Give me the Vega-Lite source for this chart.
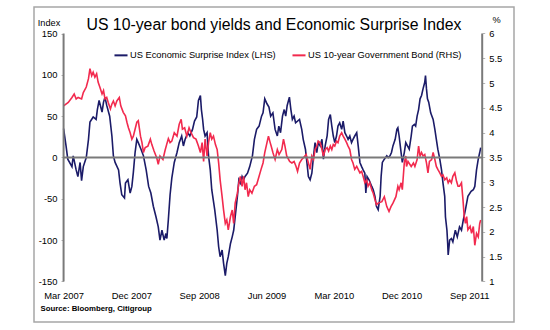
{
  "$schema": "https://vega.github.io/schema/vega-lite/v6.json",
  "width": 480,
  "height": 315,
  "autosize": {"type": "none"},
  "padding": {"left": 34, "top": 7, "right": 36, "bottom": 8},
  "background": "white",
  "config": {
    "view": {"stroke": "#a6a6a6", "strokeWidth": 1.5},
    "font": "Liberation Sans"
  },
  "title": {
    "text": "US 10-year bond yields and Economic Surprise Index",
    "font": "Liberation Sans",
    "fontSize": 15.8,
    "fontWeight": "normal",
    "color": "#000000",
    "anchor": "middle",
    "frame": "group",
    "baseline": "alphabetic",
    "offset": -39
  },
  "datasets": {
    "esi": [
      {"d":"2007-03-01","v":35},{"d":"2007-03-11","v":14},{"d":"2007-03-18","v":-2},{"d":"2007-04-04","v":-11},{"d":"2007-04-09","v":2},{"d":"2007-04-21","v":-15},{"d":"2007-04-28","v":-23},{"d":"2007-05-07","v":-6},{"d":"2007-05-13","v":-28},{"d":"2007-05-20","v":-11},{"d":"2007-06-01","v":0},{"d":"2007-06-10","v":22},{"d":"2007-06-16","v":43},{"d":"2007-06-29","v":49},{"d":"2007-07-11","v":46},{"d":"2007-07-16","v":58},{"d":"2007-07-23","v":69},{"d":"2007-08-04","v":55},{"d":"2007-08-10","v":67},{"d":"2007-08-16","v":73},{"d":"2007-08-23","v":63},{"d":"2007-09-04","v":50},{"d":"2007-09-13","v":26},{"d":"2007-09-19","v":2},{"d":"2007-09-26","v":-6},{"d":"2007-10-10","v":-15},{"d":"2007-10-16","v":-31},{"d":"2007-10-23","v":-45},{"d":"2007-11-03","v":-49},{"d":"2007-11-07","v":-31},{"d":"2007-11-17","v":-27},{"d":"2007-11-26","v":-43},{"d":"2007-12-03","v":-35},{"d":"2007-12-09","v":-18},{"d":"2007-12-16","v":6},{"d":"2007-12-23","v":22},{"d":"2007-12-29","v":18},
      {"d":"2008-01-09","v":10},{"d":"2008-01-19","v":2},{"d":"2008-01-30","v":-15},{"d":"2008-02-09","v":-35},{"d":"2008-02-18","v":-43},{"d":"2008-02-28","v":-59},{"d":"2008-03-10","v":-72},{"d":"2008-03-19","v":-84},{"d":"2008-03-26","v":-100},{"d":"2008-04-03","v":-88},{"d":"2008-04-12","v":-100},{"d":"2008-04-19","v":-92},{"d":"2008-04-23","v":-98},{"d":"2008-04-29","v":-75},{"d":"2008-05-06","v":-45},{"d":"2008-05-13","v":-25},{"d":"2008-05-23","v":-6},{"d":"2008-06-03","v":6},{"d":"2008-06-12","v":18},{"d":"2008-06-22","v":26},{"d":"2008-06-29","v":14},{"d":"2008-07-06","v":22},{"d":"2008-07-17","v":30},{"d":"2008-07-25","v":26},{"d":"2008-08-05","v":34},{"d":"2008-08-13","v":44},{"d":"2008-08-22","v":49},{"d":"2008-08-29","v":69},{"d":"2008-09-06","v":75},{"d":"2008-09-10","v":58},{"d":"2008-09-15","v":46},{"d":"2008-09-19","v":34},{"d":"2008-09-25","v":26},{"d":"2008-10-03","v":30},{"d":"2008-10-09","v":2},{"d":"2008-10-16","v":-15},{"d":"2008-10-22","v":-39},{"d":"2008-11-03","v":-63},{"d":"2008-11-13","v":-88},{"d":"2008-11-19","v":-108},{"d":"2008-11-25","v":-120},{"d":"2008-12-03","v":-112},{"d":"2008-12-09","v":-128},{"d":"2008-12-16","v":-143},{"d":"2008-12-22","v":-128},{"d":"2008-12-28","v":-120},
      {"d":"2009-01-06","v":-104},{"d":"2009-01-13","v":-96},{"d":"2009-01-19","v":-88},{"d":"2009-01-25","v":-72},{"d":"2009-02-03","v":-47},{"d":"2009-02-09","v":-27},{"d":"2009-02-15","v":-31},{"d":"2009-02-22","v":-23},{"d":"2009-02-28","v":-27},{"d":"2009-03-06","v":-23},{"d":"2009-03-16","v":-19},{"d":"2009-03-25","v":-11},{"d":"2009-04-05","v":2},{"d":"2009-04-13","v":22},{"d":"2009-04-22","v":34},{"d":"2009-05-02","v":38},{"d":"2009-05-12","v":50},{"d":"2009-05-18","v":54},{"d":"2009-05-25","v":71},{"d":"2009-06-03","v":65},{"d":"2009-06-11","v":61},{"d":"2009-06-18","v":50},{"d":"2009-06-27","v":54},{"d":"2009-07-06","v":34},{"d":"2009-07-15","v":26},{"d":"2009-07-21","v":38},{"d":"2009-07-28","v":30},{"d":"2009-08-05","v":50},{"d":"2009-08-12","v":58},{"d":"2009-08-18","v":50},{"d":"2009-08-24","v":63},{"d":"2009-09-02","v":73},{"d":"2009-09-08","v":58},{"d":"2009-09-14","v":46},{"d":"2009-09-21","v":50},{"d":"2009-09-27","v":42},{"d":"2009-10-13","v":46},{"d":"2009-10-22","v":34},{"d":"2009-10-28","v":22},{"d":"2009-11-06","v":10},{"d":"2009-11-12","v":-6},{"d":"2009-11-18","v":-23},{"d":"2009-11-25","v":-27},{"d":"2009-12-02","v":-19},{"d":"2009-12-09","v":2},{"d":"2009-12-15","v":18},{"d":"2009-12-22","v":6},{"d":"2009-12-28","v":18},
      {"d":"2010-01-05","v":14},{"d":"2010-01-12","v":22},{"d":"2010-01-18","v":-2},{"d":"2010-01-25","v":14},{"d":"2010-02-02","v":26},{"d":"2010-02-08","v":46},{"d":"2010-02-15","v":52},{"d":"2010-02-21","v":38},{"d":"2010-02-27","v":26},{"d":"2010-03-05","v":18},{"d":"2010-03-12","v":26},{"d":"2010-03-18","v":38},{"d":"2010-03-25","v":42},{"d":"2010-04-02","v":34},{"d":"2010-04-08","v":44},{"d":"2010-04-15","v":30},{"d":"2010-04-22","v":26},{"d":"2010-04-28","v":22},{"d":"2010-05-05","v":26},{"d":"2010-05-12","v":18},{"d":"2010-05-18","v":22},{"d":"2010-05-25","v":26},{"d":"2010-06-02","v":30},{"d":"2010-06-08","v":14},{"d":"2010-06-15","v":-6},{"d":"2010-06-22","v":-11},{"d":"2010-06-28","v":-15},{"d":"2010-07-05","v":-19},{"d":"2010-07-09","v":-43},{"d":"2010-07-14","v":-23},{"d":"2010-07-22","v":-27},{"d":"2010-08-02","v":-35},{"d":"2010-08-08","v":-39},{"d":"2010-08-15","v":-47},{"d":"2010-08-21","v":-59},{"d":"2010-08-28","v":-63},{"d":"2010-09-05","v":-47},{"d":"2010-09-09","v":-23},{"d":"2010-09-14","v":-6},{"d":"2010-09-22","v":-2},{"d":"2010-10-02","v":2},{"d":"2010-10-08","v":0},{"d":"2010-10-15","v":2},{"d":"2010-10-21","v":6},{"d":"2010-10-27","v":14},{"d":"2010-11-05","v":22},{"d":"2010-11-12","v":34},{"d":"2010-11-16","v":36},{"d":"2010-11-21","v":26},{"d":"2010-11-29","v":6},{"d":"2010-12-04","v":-6},{"d":"2010-12-12","v":6},{"d":"2010-12-18","v":18},{"d":"2010-12-25","v":14},
      {"d":"2011-01-01","v":10},{"d":"2011-01-09","v":26},{"d":"2011-01-14","v":38},{"d":"2011-01-22","v":40},{"d":"2011-01-27","v":38},{"d":"2011-02-02","v":50},{"d":"2011-02-08","v":58},{"d":"2011-02-14","v":71},{"d":"2011-02-20","v":75},{"d":"2011-02-26","v":83},{"d":"2011-03-05","v":91},{"d":"2011-03-08","v":99},{"d":"2011-03-12","v":83},{"d":"2011-03-16","v":71},{"d":"2011-03-21","v":67},{"d":"2011-03-29","v":54},{"d":"2011-04-08","v":46},{"d":"2011-04-15","v":34},{"d":"2011-04-21","v":22},{"d":"2011-04-27","v":10},{"d":"2011-05-05","v":-2},{"d":"2011-05-12","v":-15},{"d":"2011-05-18","v":-31},{"d":"2011-05-25","v":-47},{"d":"2011-05-28","v":-72},{"d":"2011-06-03","v":-88},{"d":"2011-06-06","v":-104},{"d":"2011-06-08","v":-118},{"d":"2011-06-14","v":-100},{"d":"2011-06-21","v":-98},{"d":"2011-06-27","v":-102},{"d":"2011-07-07","v":-88},{"d":"2011-07-15","v":-96},{"d":"2011-07-24","v":-84},{"d":"2011-08-01","v":-88},{"d":"2011-08-08","v":-76},{"d":"2011-08-17","v":-63},{"d":"2011-08-27","v":-47},{"d":"2011-09-09","v":-41},{"d":"2011-09-18","v":-39},{"d":"2011-09-24","v":-35},{"d":"2011-10-01","v":-15},{"d":"2011-10-08","v":-2},{"d":"2011-10-14","v":6},{"d":"2011-10-18","v":12}
    ],
    "ust": [
      {"d":"2007-03-01","v":4.54},{"d":"2007-03-20","v":4.61},{"d":"2007-04-04","v":4.71},{"d":"2007-04-13","v":4.78},{"d":"2007-04-21","v":4.68},{"d":"2007-04-29","v":4.71},{"d":"2007-05-13","v":4.68},{"d":"2007-05-20","v":4.81},{"d":"2007-06-01","v":4.92},{"d":"2007-06-10","v":5.09},{"d":"2007-06-16","v":5.29},{"d":"2007-06-23","v":5.15},{"d":"2007-06-29","v":5.22},{"d":"2007-07-06","v":5.12},{"d":"2007-07-13","v":5.19},{"d":"2007-07-19","v":5.02},{"d":"2007-07-26","v":4.92},{"d":"2007-08-04","v":4.78},{"d":"2007-08-10","v":4.85},{"d":"2007-08-16","v":4.68},{"d":"2007-08-23","v":4.71},{"d":"2007-08-29","v":4.61},{"d":"2007-09-07","v":4.48},{"d":"2007-09-13","v":4.58},{"d":"2007-09-19","v":4.64},{"d":"2007-09-26","v":4.54},{"d":"2007-10-03","v":4.64},{"d":"2007-10-13","v":4.71},{"d":"2007-10-19","v":4.54},{"d":"2007-10-29","v":4.41},{"d":"2007-11-07","v":4.34},{"d":"2007-11-13","v":4.21},{"d":"2007-11-19","v":4.10},{"d":"2007-11-26","v":4.00},{"d":"2007-12-03","v":3.87},{"d":"2007-12-09","v":3.93},{"d":"2007-12-16","v":4.07},{"d":"2007-12-23","v":4.21},{"d":"2007-12-29","v":4.24},
      {"d":"2008-01-07","v":3.93},{"d":"2008-01-13","v":3.80},{"d":"2008-01-19","v":3.60},{"d":"2008-01-26","v":3.70},{"d":"2008-02-06","v":3.73},{"d":"2008-02-16","v":3.87},{"d":"2008-02-22","v":3.76},{"d":"2008-03-02","v":3.63},{"d":"2008-03-13","v":3.49},{"d":"2008-03-19","v":3.36},{"d":"2008-03-26","v":3.53},{"d":"2008-04-07","v":3.46},{"d":"2008-04-16","v":3.65},{"d":"2008-04-22","v":3.76},{"d":"2008-04-29","v":3.88},{"d":"2008-05-06","v":3.80},{"d":"2008-05-13","v":3.83},{"d":"2008-05-23","v":4.00},{"d":"2008-06-03","v":3.93},{"d":"2008-06-12","v":4.17},{"d":"2008-06-20","v":4.27},{"d":"2008-06-25","v":4.07},{"d":"2008-07-04","v":4.10},{"d":"2008-07-13","v":3.93},{"d":"2008-07-22","v":4.10},{"d":"2008-07-30","v":4.00},{"d":"2008-08-09","v":3.90},{"d":"2008-08-19","v":3.87},{"d":"2008-08-29","v":3.73},{"d":"2008-09-06","v":3.60},{"d":"2008-09-13","v":3.80},{"d":"2008-09-19","v":3.42},{"d":"2008-09-25","v":3.87},{"d":"2008-10-03","v":3.53},{"d":"2008-10-09","v":3.80},{"d":"2008-10-16","v":4.00},{"d":"2008-10-22","v":3.87},{"d":"2008-10-29","v":3.93},{"d":"2008-11-06","v":3.76},{"d":"2008-11-13","v":3.66},{"d":"2008-11-19","v":3.39},{"d":"2008-11-25","v":3.05},{"d":"2008-12-03","v":2.71},{"d":"2008-12-09","v":2.44},{"d":"2008-12-16","v":2.17},{"d":"2008-12-22","v":2.24},{"d":"2008-12-28","v":2.04},
      {"d":"2009-01-06","v":2.31},{"d":"2009-01-13","v":2.44},{"d":"2009-01-19","v":2.17},{"d":"2009-01-25","v":2.58},{"d":"2009-02-03","v":2.78},{"d":"2009-02-09","v":2.99},{"d":"2009-02-15","v":3.12},{"d":"2009-02-22","v":2.92},{"d":"2009-02-28","v":3.12},{"d":"2009-03-06","v":2.85},{"d":"2009-03-12","v":2.99},{"d":"2009-03-19","v":2.71},{"d":"2009-03-25","v":2.85},{"d":"2009-04-03","v":2.78},{"d":"2009-04-13","v":2.92},{"d":"2009-04-22","v":2.95},{"d":"2009-05-02","v":3.12},{"d":"2009-05-10","v":3.26},{"d":"2009-05-18","v":3.39},{"d":"2009-05-25","v":3.60},{"d":"2009-06-03","v":3.80},{"d":"2009-06-09","v":3.93},{"d":"2009-06-16","v":3.80},{"d":"2009-06-20","v":3.73},{"d":"2009-06-27","v":3.60},{"d":"2009-07-06","v":3.46},{"d":"2009-07-15","v":3.66},{"d":"2009-07-22","v":3.56},{"d":"2009-08-02","v":3.66},{"d":"2009-08-09","v":3.87},{"d":"2009-08-15","v":3.73},{"d":"2009-08-22","v":3.53},{"d":"2009-09-03","v":3.42},{"d":"2009-09-12","v":3.39},{"d":"2009-09-21","v":3.42},{"d":"2009-09-29","v":3.32},{"d":"2009-10-05","v":3.22},{"d":"2009-10-13","v":3.39},{"d":"2009-10-22","v":3.46},{"d":"2009-10-28","v":3.49},{"d":"2009-11-09","v":3.56},{"d":"2009-11-18","v":3.39},{"d":"2009-11-25","v":3.26},{"d":"2009-12-02","v":3.53},{"d":"2009-12-09","v":3.46},{"d":"2009-12-15","v":3.66},{"d":"2009-12-22","v":3.73},{"d":"2009-12-28","v":3.83},
      {"d":"2010-01-05","v":3.80},{"d":"2010-01-12","v":3.66},{"d":"2010-01-18","v":3.53},{"d":"2010-01-25","v":3.66},{"d":"2010-02-02","v":3.70},{"d":"2010-02-08","v":3.63},{"d":"2010-02-15","v":3.73},{"d":"2010-02-21","v":3.66},{"d":"2010-02-27","v":3.76},{"d":"2010-03-05","v":3.73},{"d":"2010-03-12","v":3.83},{"d":"2010-03-18","v":3.80},{"d":"2010-03-25","v":3.93},{"d":"2010-04-02","v":4.00},{"d":"2010-04-08","v":3.93},{"d":"2010-04-15","v":3.87},{"d":"2010-04-22","v":3.80},{"d":"2010-04-28","v":3.73},{"d":"2010-05-05","v":3.66},{"d":"2010-05-12","v":3.46},{"d":"2010-05-18","v":3.39},{"d":"2010-05-25","v":3.26},{"d":"2010-06-02","v":3.32},{"d":"2010-06-08","v":3.26},{"d":"2010-06-15","v":3.19},{"d":"2010-06-22","v":3.22},{"d":"2010-06-28","v":3.12},{"d":"2010-07-05","v":2.99},{"d":"2010-07-12","v":3.05},{"d":"2010-07-18","v":2.92},{"d":"2010-07-25","v":2.99},{"d":"2010-08-02","v":2.85},{"d":"2010-08-08","v":2.78},{"d":"2010-08-15","v":2.65},{"d":"2010-08-21","v":2.55},{"d":"2010-08-28","v":2.58},{"d":"2010-09-12","v":2.61},{"d":"2010-09-22","v":2.71},{"d":"2010-10-02","v":2.51},{"d":"2010-10-11","v":2.41},{"d":"2010-10-19","v":2.51},{"d":"2010-10-27","v":2.58},{"d":"2010-11-08","v":2.71},{"d":"2010-11-16","v":2.92},{"d":"2010-11-21","v":2.85},{"d":"2010-11-29","v":2.99},{"d":"2010-12-04","v":2.85},{"d":"2010-12-12","v":3.39},{"d":"2010-12-18","v":3.53},{"d":"2010-12-21","v":3.32},{"d":"2010-12-27","v":3.42},
      {"d":"2011-01-09","v":3.32},{"d":"2011-01-18","v":3.39},{"d":"2011-01-24","v":3.32},{"d":"2011-02-02","v":3.46},{"d":"2011-02-08","v":3.73},{"d":"2011-02-14","v":3.53},{"d":"2011-02-20","v":3.60},{"d":"2011-02-26","v":3.53},{"d":"2011-03-05","v":3.56},{"d":"2011-03-12","v":3.39},{"d":"2011-03-18","v":3.19},{"d":"2011-03-24","v":3.42},{"d":"2011-04-02","v":3.46},{"d":"2011-04-08","v":3.60},{"d":"2011-04-15","v":3.46},{"d":"2011-04-21","v":3.32},{"d":"2011-04-27","v":3.26},{"d":"2011-05-05","v":3.19},{"d":"2011-05-12","v":3.12},{"d":"2011-05-18","v":3.15},{"d":"2011-05-25","v":3.05},{"d":"2011-06-02","v":3.09},{"d":"2011-06-08","v":2.99},{"d":"2011-06-14","v":3.05},{"d":"2011-06-21","v":2.99},{"d":"2011-06-27","v":3.12},{"d":"2011-07-05","v":3.19},{"d":"2011-07-12","v":3.02},{"d":"2011-07-18","v":2.92},{"d":"2011-07-24","v":2.92},{"d":"2011-08-01","v":2.99},{"d":"2011-08-07","v":2.65},{"d":"2011-08-12","v":2.31},{"d":"2011-08-17","v":2.17},{"d":"2011-08-22","v":2.31},{"d":"2011-08-27","v":2.04},{"d":"2011-09-05","v":2.11},{"d":"2011-09-11","v":1.97},{"d":"2011-09-18","v":2.11},{"d":"2011-09-24","v":1.73},{"d":"2011-10-01","v":1.97},{"d":"2011-10-08","v":1.90},{"d":"2011-10-14","v":2.17},{"d":"2011-10-18","v":2.24}
    ]
  },
  "layer": [
    {
      "data": {"name": "esi"},
      "mark": {"type": "line", "strokeWidth": 1.6},
      "encoding": {
        "x": {
          "field": "d",
          "type": "temporal",
          "scale": {
            "type": "utc",
            "domain": [
              {"year": 2006, "month": 11, "date": 1, "utc": true},
              {"year": 2012, "month": 3, "date": 1, "utc": true}
            ]
          },
          "axis": {
            "orient": "bottom",
            "offset": -40.5,
            "domain": false,
            "ticks": false,
            "tickSize": 0,
            "grid": false,
            "values": [
              {"year": 2007, "month": 3, "date": 1, "utc": true},
              {"year": 2007, "month": 12, "date": 1, "utc": true},
              {"year": 2008, "month": 9, "date": 1, "utc": true},
              {"year": 2009, "month": 6, "date": 1, "utc": true},
              {"year": 2010, "month": 3, "date": 1, "utc": true},
              {"year": 2010, "month": 12, "date": 1, "utc": true},
              {"year": 2011, "month": 9, "date": 1, "utc": true}
            ],
            "labelExpr": "utcFormat(datum.value, '%b %Y')",
            "labelOverlap": false,
            "labelFlush": false,
            "labelBound": false,
            "labelPadding": 10,
            "labelFont": "Liberation Sans",
            "labelFontSize": 9.4,
            "labelColor": "#000000",
            "title": "Source: Bloomberg, Citigroup",
            "titleFont": "Liberation Sans",
            "titleFontSize": 7.8,
            "titleFontWeight": "bold",
            "titleColor": "#000000",
            "titleAlign": "left",
            "titleAnchor": "start",
            "titleBaseline": "middle",
            "titleX": 6,
            "titleY": 27
          }
        },
        "y": {
          "field": "v",
          "type": "quantitative",
          "scale": {"domain": [-199, 182.06], "nice": false, "zero": false},
          "axis": {
            "orient": "left",
            "offset": -29.5,
            "domain": false,
            "grid": false,
            "values": [-150, -100, -50, 0, 50, 100, 150],
            "labelExpr": "datum.value + ''",
            "labelOverlap": false,
            "tickSize": 2.5,
            "tickColor": "#b5b5b5",
            "labelPadding": 4,
            "labelFont": "Liberation Sans",
            "labelFontSize": 9.4,
            "labelColor": "#000000",
            "title": "Index",
            "titleAngle": 0,
            "titleFont": "Liberation Sans",
            "titleFontSize": 9.2,
            "titleFontWeight": "normal",
            "titleColor": "#000000",
            "titleAlign": "center",
            "titleBaseline": "middle",
            "titleX": -15,
            "titleY": 15
          }
        },
        "color": {
          "datum": "US Economic Surprise Index (LHS)",
          "type": "nominal",
          "scale": {
            "domain": ["US Economic Surprise Index (LHS)", "US 10-year Government Bond (RHS)"],
            "range": ["#1b1b68", "#f22a4e"]
          },
          "legend": {
            "orient": "none",
            "legendX": 79,
            "legendY": 40,
            "direction": "horizontal",
            "title": null,
            "symbolType": "stroke",
            "symbolStrokeWidth": 2,
            "symbolSize": 170,
            "labelFont": "Liberation Sans",
            "labelFontSize": 9.3,
            "labelColor": "#000000",
            "labelLimit": 300,
            "labelOffset": 1,
            "columnPadding": 12,
            "padding": 0
          }
        }
      }
    },
    {
      "data": {"name": "ust"},
      "mark": {"type": "line", "strokeWidth": 1.6},
      "encoding": {
        "x": {"field": "d", "type": "temporal"},
        "y": {
          "field": "v",
          "type": "quantitative",
          "scale": {"domain": [0.1835, 6.534], "nice": false, "zero": false},
          "axis": {
            "orient": "right",
            "offset": -31.8,
            "domain": false,
            "grid": false,
            "values": [1, 1.5, 2, 2.5, 3, 3.5, 4, 4.5, 5, 5.5, 6],
            "labelExpr": "datum.value + ''",
            "labelOverlap": false,
            "tickSize": 2.5,
            "tickColor": "#b5b5b5",
            "labelPadding": 4,
            "labelFont": "Liberation Sans",
            "labelFontSize": 9.4,
            "labelColor": "#000000",
            "title": "%",
            "titleAngle": 0,
            "titleFont": "Liberation Sans",
            "titleFontSize": 9.2,
            "titleFontWeight": "normal",
            "titleColor": "#000000",
            "titleAlign": "center",
            "titleBaseline": "middle",
            "titleX": 14,
            "titleY": 12
          }
        },
        "color": {"datum": "US 10-year Government Bond (RHS)", "type": "nominal"}
      }
    },
    {
      "data": {"values": [{}]},
      "layer": [
        {
          "mark": {"type": "rule", "color": "#7a7a7a", "strokeWidth": 2},
          "encoding": {
            "x": {"datum": {"year": 2007, "month": 3, "date": 1, "utc": true}, "type": "temporal"},
            "x2": {"datum": {"year": 2011, "month": 10, "date": 24, "utc": true}},
            "y": {"datum": 0, "type": "quantitative", "scale": {"domain": [-199, 182.06], "nice": false, "zero": false}, "axis": null}
          }
        },
        {
          "mark": {"type": "rule", "color": "#7a7a7a", "strokeWidth": 2},
          "encoding": {
            "x": {"datum": {"year": 2007, "month": 3, "date": 1, "utc": true}, "type": "temporal"},
            "y": {"datum": -150, "type": "quantitative", "axis": null},
            "y2": {"datum": 150}
          }
        },
        {
          "mark": {"type": "rule", "color": "#7a7a7a", "strokeWidth": 2},
          "encoding": {
            "x": {"datum": {"year": 2011, "month": 10, "date": 24, "utc": true}, "type": "temporal"},
            "y": {"datum": -150, "type": "quantitative", "axis": null},
            "y2": {"datum": 150}
          }
        }
      ]
    }
  ],
  "resolve": {"scale": {"y": "independent"}}
}
